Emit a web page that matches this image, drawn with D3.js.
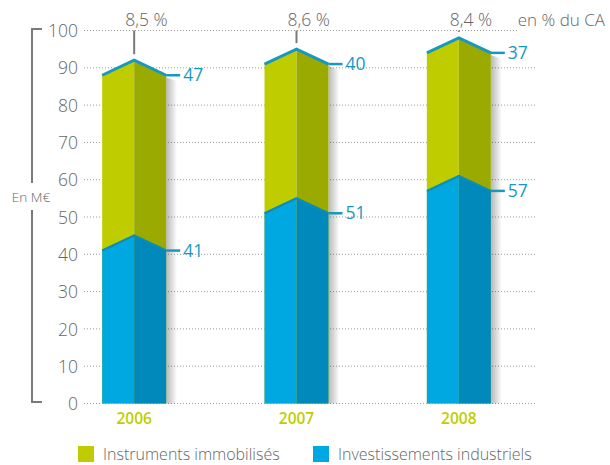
<!DOCTYPE html>
<html><head><meta charset="utf-8">
<script src="https://cdn.jsdelivr.net/npm/d3@7"></script>
<style>body{margin:0;background:#fff}svg{display:block}text{font-family:"Open Sans",sans-serif;font-weight:300}</style>
</head><body><svg id="c" width="610" height="465"></svg>
<script>
const years = ["2006","2007","2008"];
const investissements = [41,51,57];
const instruments = [47,40,37];
const pctCA = ["8,5 %","8,6 %","8,4 %"];
const yTicks = [0,10,20,30,40,50,60,70,80,90,100];
const seriesNames = ["Instruments immobilisés","Investissements industriels"];

const svg = d3.select("#c");
const grey = "#666666", teal = "#1799bf";
const cLightGreen="#bfcd00", cDarkGreen="#9aaa00", cLightBlue="#00a8e2", cDarkBlue="#0089ba";

const x = d3.scaleBand().domain(years).range([53,540]).padding(0);
const y = d3.scaleLinear().domain([0,100]).range([403.5,30.5]);
const bw = 64, peak = 15;

const defs = svg.append("defs");
const g1 = defs.append("linearGradient").attr("id","sh").attr("x1","0").attr("x2","1").attr("y1","0").attr("y2","0");
g1.append("stop").attr("offset","0").attr("stop-color","#000").attr("stop-opacity",0.28);
g1.append("stop").attr("offset","1").attr("stop-color","#000").attr("stop-opacity",0);

// gridlines
svg.append("g").selectAll("line").data(yTicks).join("line")
  .attr("x1",84).attr("x2",d=>d===100?518:537)
  .attr("y1",d=>y(d)).attr("y2",d=>y(d))
  .attr("stroke","#9a9a9a").attr("stroke-width",1).attr("stroke-dasharray","1,2");

// y axis labels
const yAxis = d3.axisLeft(y).tickValues(yTicks).tickSize(0).tickPadding(0);
const ya = svg.append("g").attr("transform","translate(78,0)").call(yAxis);
ya.select(".domain").remove();
ya.selectAll("text").attr("fill",grey).style("font-size","17.5px").attr("dy","0.35em")
  .style("font-family","'Open Sans',sans-serif").style("font-weight","300");

// bracket
const br = svg.append("g").attr("stroke","#7a7a7a").attr("stroke-width",2).attr("fill","none");
br.append("path").attr("d",`M42,${y(100)-1.5}H32V183`);
br.append("path").attr("d",`M32,210V${y(0)-1.5}H42`);
svg.append("text").attr("x",31).attr("y",197).attr("dy","0.35em").attr("text-anchor","middle")
  .attr("fill",grey).style("font-size","13.5px").text("En M€");

// bars
const data = years.map((yr,i)=>({yr, inv:investissements[i], ins:instruments[i], tot:investissements[i]+instruments[i], pct:pctCA[i]}));
const bars = svg.append("g").selectAll("g").data(data).join("g");

function faces(g, d, top, cl, cd){
  const cx = x(d.yr)+x.bandwidth()/2, l = cx-bw/2, r = cx+bw/2;
  const b = y(0), t = y(top);
  g.append("path").attr("d",`M${l},${b}L${l},${t}L${cx},${t-peak}L${cx},${b}Z`).attr("fill",cl);
  g.append("path").attr("d",`M${cx},${b}L${cx},${t-peak}L${r},${t}L${r},${b}Z`).attr("fill",cd);
}
bars.each(function(d){
  const g = d3.select(this);
  const cx = x(d.yr)+x.bandwidth()/2, r = cx+bw/2;
  g.append("path").attr("d",`M${r},${y(d.tot)+2}L${r},${y(0)}L${r+11},${y(0)}L${r+11},${y(d.tot)+6}Z`).attr("fill","url(#sh)");
  faces(g,d,d.tot,cLightGreen,cDarkGreen);
  faces(g,d,d.inv,cLightBlue,cDarkBlue);
});
// roof lines and value labels
bars.each(function(d){
  const g = d3.select(this);
  const cx = x(d.yr)+x.bandwidth()/2, l = cx-bw/2, r = cx+bw/2;
  [[d.inv,d.inv,2.2,"#0a8db8"],[d.tot,d.ins,3,teal]].forEach(([v,lab,sw,col])=>{
    g.append("path").attr("d",`M${l},${y(v)}L${cx},${y(v)-peak}L${r},${y(v)}`)
      .attr("fill","none").attr("stroke",col).attr("stroke-width",sw).attr("stroke-linejoin","miter");
    g.append("line").attr("x1",r).attr("x2",r+14).attr("y1",y(v)).attr("y2",y(v)).attr("stroke",teal).attr("stroke-width",2.5);
    g.append("text").attr("x",r+17).attr("y",y(v)).attr("dy","0.35em").attr("fill",teal)
      .style("font-size","17.5px").style("font-weight","400").text(lab);
  });
  g.append("line").attr("x1",cx).attr("x2",cx).attr("y1",y(100)).attr("y2",y(d.tot)-peak-6)
    .attr("stroke","#7a7a7a").attr("stroke-width",2);
  g.append("text").attr("x",cx-9).attr("y",20).attr("dy","0.35em").attr("fill",grey)
    .style("font-size","17.5px").text(d.pct);
  g.append("text").attr("x",cx).attr("y",418.5).attr("dy","0.35em").attr("text-anchor","middle")
    .attr("fill","#bfcd00").style("font-size","15.5px").style("font-weight","600").text(d.yr);
});
svg.append("text").attr("x",605).attr("y",20).attr("dy","0.35em").attr("text-anchor","end")
  .attr("fill",grey).style("font-size","17px").text("en % du CA");

// legend
const leg = svg.append("g").selectAll("g").data(seriesNames).join("g")
  .attr("transform",(d,i)=>`translate(${i===0?78:313},446)`);
leg.append("rect").attr("width",16).attr("height",16).attr("fill",(d,i)=>i===0?cLightGreen:cLightBlue);
leg.append("text").attr("x",25).attr("y",8).attr("dy","0.35em").attr("fill",grey).style("font-size","16px").text(d=>d);
</script></body></html>
